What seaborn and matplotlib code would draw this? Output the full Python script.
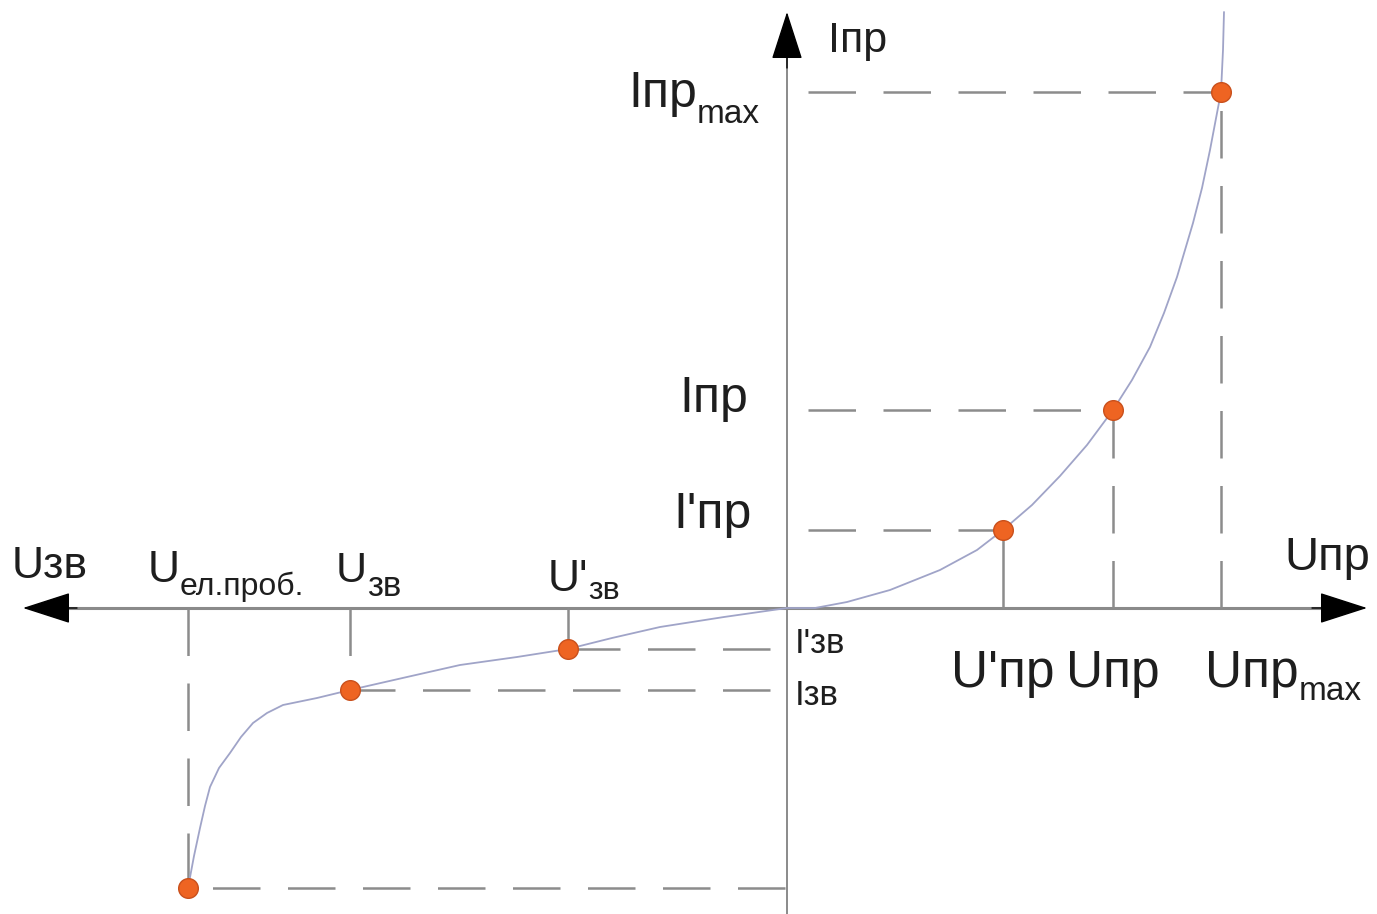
import numpy as np
import pandas as pd
import matplotlib
matplotlib.use("Agg")
import matplotlib.pyplot as plt
import seaborn as sns
from matplotlib.transforms import IdentityTransform

# --- data (U along x, I along y, arbitrary units) ---
# reverse branch of the curve
rev_u = [-5.99, -5.93, -5.87, -5.82, -5.77, -5.68, -5.57, -5.46, -5.34, -5.20, -5.04,
         -4.70, -4.37, -3.80, -3.27, -2.70, -2.19, -1.75, -1.27, -0.63, 0.0]
rev_i = [-2.80, -2.48, -2.20, -1.98, -1.79, -1.60, -1.45, -1.29, -1.15, -1.05, -0.97,
         -0.90, -0.82, -0.69, -0.57, -0.49, -0.41, -0.30, -0.19, -0.09, 0.0]
# forward branch of the curve
fwd_u = [0.0, 0.28, 0.60, 1.03, 1.28, 1.53, 1.90, 2.16, 2.45, 2.73, 3.00, 3.26,
         3.45, 3.63, 3.77, 3.90, 4.06, 4.15, 4.23, 4.34, 4.36, 4.37]
fwd_i = [0.0, 0.0, 0.06, 0.18, 0.28, 0.38, 0.58, 0.78, 1.03, 1.32, 1.63, 1.98,
         2.28, 2.61, 2.95, 3.31, 3.85, 4.20, 4.58, 5.16, 5.58, 5.96]

# marked points: breakdown, Uзв, U'зв, U'пр, Uпр, Uпр max
pt_u = [-5.99, -4.37, -2.19, 2.16, 3.26, 4.34]
pt_i = [-2.80, -0.82, -0.41, 0.78, 1.98, 5.16]

# --- style ---
curve_color = "#a0a4c8"
dot_color = "#ee6422"
guide_color = "#8c8c8c"
axis_color = "#8a8a8a"
text_color = "#1e1e1e"

sns.set_theme(style="white")
plt.rcParams["font.family"] = ["Liberation Sans Narrow", "Liberation Sans", "DejaVu Sans"]

fig = plt.figure(figsize=(13.77, 9.14), dpi=100)
ax = fig.add_axes([0, 0, 1, 1])

# axes of the diagram
ax.plot([-7.3, 5.45], [0, 0], color=axis_color, lw=2.2, zorder=1)
ax.plot([0, 0], [-3.1, 5.5], color=axis_color, lw=1.4, zorder=1)
arrow = dict(arrowstyle="-|>,head_length=3.1,head_width=1.0", mutation_scale=10,
             color="black", shrinkA=0, shrinkB=0, lw=1)
ax.annotate("", xy=(0, 5.96), xytext=(0, 5.4), arrowprops=arrow)
ax.annotate("", xy=(-7.64, 0), xytext=(-7.1, 0), arrowprops=arrow)
ax.annotate("", xy=(5.80, 0), xytext=(5.25, 0), arrowprops=arrow)

# guide lines to the axes
dash = (0, (19, 11))
g = dict(color=guide_color, lw=1.8, zorder=2)
for k in (3, 4, 5):  # forward points -> I axis
    ax.plot([0.21, pt_u[k]], [pt_i[k], pt_i[k]], ls=dash, **g)
for k in (1, 2):  # reverse points -> I axis
    ax.plot([-0.17, pt_u[k]], [pt_i[k], pt_i[k]], ls=dash, **g)
ax.plot([-0.02, pt_u[0]], [pt_i[0], pt_i[0]], ls=dash, **g)
# to the U axis
ax.plot([pt_u[0], pt_u[0]], [0, pt_i[0]], ls=dash, **g)
ax.plot([pt_u[1], pt_u[1]], [0, pt_i[1]], ls=dash, **g)
ax.plot([pt_u[2], pt_u[2]], [0, pt_i[2]], ls="-", **g)
ax.plot([pt_u[3], pt_u[3]], [0, pt_i[3]], ls="-", **g)
ax.plot([pt_u[4], pt_u[4]], [0, pt_i[4]], ls=dash, **g)
ax.plot([pt_u[5], pt_u[5]], [0, pt_i[5]], ls=dash, **g)

# characteristic curve
curve = pd.DataFrame({"u": rev_u + fwd_u[1:], "i": rev_i + fwd_i[1:]})
sns.lineplot(data=curve, x="u", y="i", sort=False, estimator=None,
             color=curve_color, lw=1.3, ax=ax, zorder=3)

pts = pd.DataFrame({"u": pt_u, "i": pt_i})
sns.scatterplot(data=pts, x="u", y="i", s=200, color=dot_color,
                edgecolor="#c9501c", linewidth=1, ax=ax, zorder=4)
ax.set_xlim(-7.87, 5.90)
ax.set_ylim(-3.06, 6.08)
ax.axis("off")

renderer = fig.canvas.get_renderer()


def put_label(x, y, main, sub="", size=34, sub_size=24, ha="left", dx=0, dy=0, drop=12):
    # x, y in data units; dx, dy shift in pixels (dy positive = down)
    px, py = ax.transData.transform((x, y))
    px, py = px + dx, py - dy
    t1 = ax.text(0, 0, main, fontsize=size, color=text_color,
                 transform=IdentityTransform(), va="baseline")
    w1 = t1.get_window_extent(renderer).width
    t2, w2 = None, 0
    if sub:
        t2 = ax.text(0, 0, sub, fontsize=sub_size, color=text_color,
                     transform=IdentityTransform(), va="baseline")
        w2 = t2.get_window_extent(renderer).width
    shift = {"left": 0, "center": (w1 + w2) / 2, "right": w1 + w2}[ha]
    t1.set_position((px - shift, py))
    if t2 is not None:
        t2.set_position((px - shift + w1, py - drop))


# I axis labels
put_label(0, 5.96, "Iпр", size=31, dx=41, dy=40)
put_label(0, pt_i[5], "Iпр", "max", size=36, sub_size=24, ha="right", dx=-27, dy=15, drop=16)
put_label(0, pt_i[4], "Iпр", size=36, ha="right", dx=-39, dy=2)
put_label(0, pt_i[3], "I'пр", size=36, ha="right", dx=-35, dy=-2)
put_label(0, pt_i[2], "I'зв", size=25, dx=8, dy=4)
put_label(0, pt_i[1], "Iзв", size=25, dx=8, dy=15)

# U axis labels
put_label(-7.64, 0, "Uзв", size=32, dx=-11, dy=-30)
put_label(5.80, 0, "Uпр", size=34, ha="right", dx=3, dy=-38)
put_label(pt_u[0], 0, "U", "ел.проб.", size=32, sub_size=23, dx=-40, dy=-26, drop=13)
put_label(pt_u[1], 0, "U", "зв", size=31, sub_size=25, dx=-14, dy=-26, drop=14)
put_label(pt_u[2], 0, "U'", "зв", size=32, sub_size=23, dx=-20, dy=-17, drop=8)
put_label(pt_u[3], 0, "U'пр", size=37, ha="center", dy=79)
put_label(pt_u[4], 0, "Uпр", size=37, ha="center", dy=79)
put_label(pt_u[5], 0, "Uпр", "max", size=37, sub_size=24, dx=-16, dy=79, drop=13)

fig.savefig("out.png", dpi=100)
